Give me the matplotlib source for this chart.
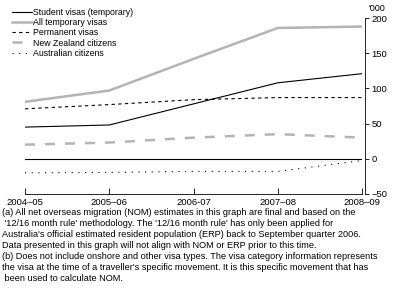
import matplotlib
matplotlib.use("Agg")
import matplotlib.pyplot as plt

plt.rcParams['font.family'] = ['Liberation Sans', 'DejaVu Sans']

years = ["2004\u201305", "2005\u201306", "2006-07", "2007\u201308", "2008\u201309"]
student = [45, 48, 78, 108, 121]
all_temp = [81, 97, 142, 186, 188]
permanent = [71, 77, 84, 87, 87]
nz = [20, 23, 30, 35, 30]
aus = [-20, -19.5, -18, -18, -2.5]

notes = ("(a) All net overseas migration (NOM) estimates in this graph are final and based on the\n"
         " '12/16 month rule' methodology. The '12/16 month rule' has only been applied for\n"
         "Australia's official estimated resident population (ERP) back to September quarter 2006.\n"
         "Data presented in this graph will not align with NOM or ERP prior to this time.\n"
         "(b) Does not include onshore and other visa types. The visa category information represents\n"
         "the visa at the time of a traveller's specific movement. It is this specific movement that has\n"
         " been used to calculate NOM.")

fig = plt.figure(figsize=(3.97, 3.02), dpi=100)
ax = fig.add_axes([0.063, 0.358, 0.849, 0.582])

x = range(len(years))
ax.axhline(0, color='black', lw=0.8)
ax.plot(x, student, color='black', lw=0.8, label='Student visas (temporary)')
ax.plot(x, all_temp, color='#b4b4b4', lw=1.8, label='All temporary visas')
ax.plot(x, permanent, color='black', lw=0.8, ls=(0, (3, 3)), label='Permanent visas')
ax.plot(x, nz, color='#b4b4b4', lw=1.8, ls=(0, (4, 4)), label='New Zealand citizens')
ax.plot(x, aus, color='black', lw=0.8, ls=(0, (1, 5)), label='Australian citizens')

ax.set_xlim(0, 4)
ax.set_ylim(-50, 200)
ax.set_xticks(list(x))
ax.set_xticklabels(years)
ax.xaxis.set_ticks_position('bottom')
ax.tick_params(axis='x', direction='in', length=4, width=0.6, pad=3, labelsize=6.8)
ax.yaxis.tick_right()
ax.set_yticks([-50, 0, 50, 100, 150, 200])
ax.set_yticklabels(['\u221250', '0', '50', '100', '150', '200'])
ax.tick_params(axis='y', direction='out', length=3, width=0.6, pad=1.5, labelsize=6.8)
for s in ['top', 'left']:
    ax.spines[s].set_visible(False)
ax.spines['right'].set_position(('axes', 1.009))
ax.spines['right'].set_linewidth(0.6)
ax.spines['bottom'].set_linewidth(0.6)
ax.text(1.02, 1.03, "'000", transform=ax.transAxes, fontsize=6.5, ha='left', va='bottom')

ax.legend(loc='upper left', bbox_to_anchor=(-0.039, 1.06), frameon=False, fontsize=6.3,
          handlelength=2.3, handletextpad=0.15, labelspacing=0.15, borderaxespad=0,
          borderpad=0)

fig.text(0.006, 0.31, notes, fontsize=6.6, ha='left', va='top', linespacing=1.28)

fig.savefig("out.png", dpi=100)
